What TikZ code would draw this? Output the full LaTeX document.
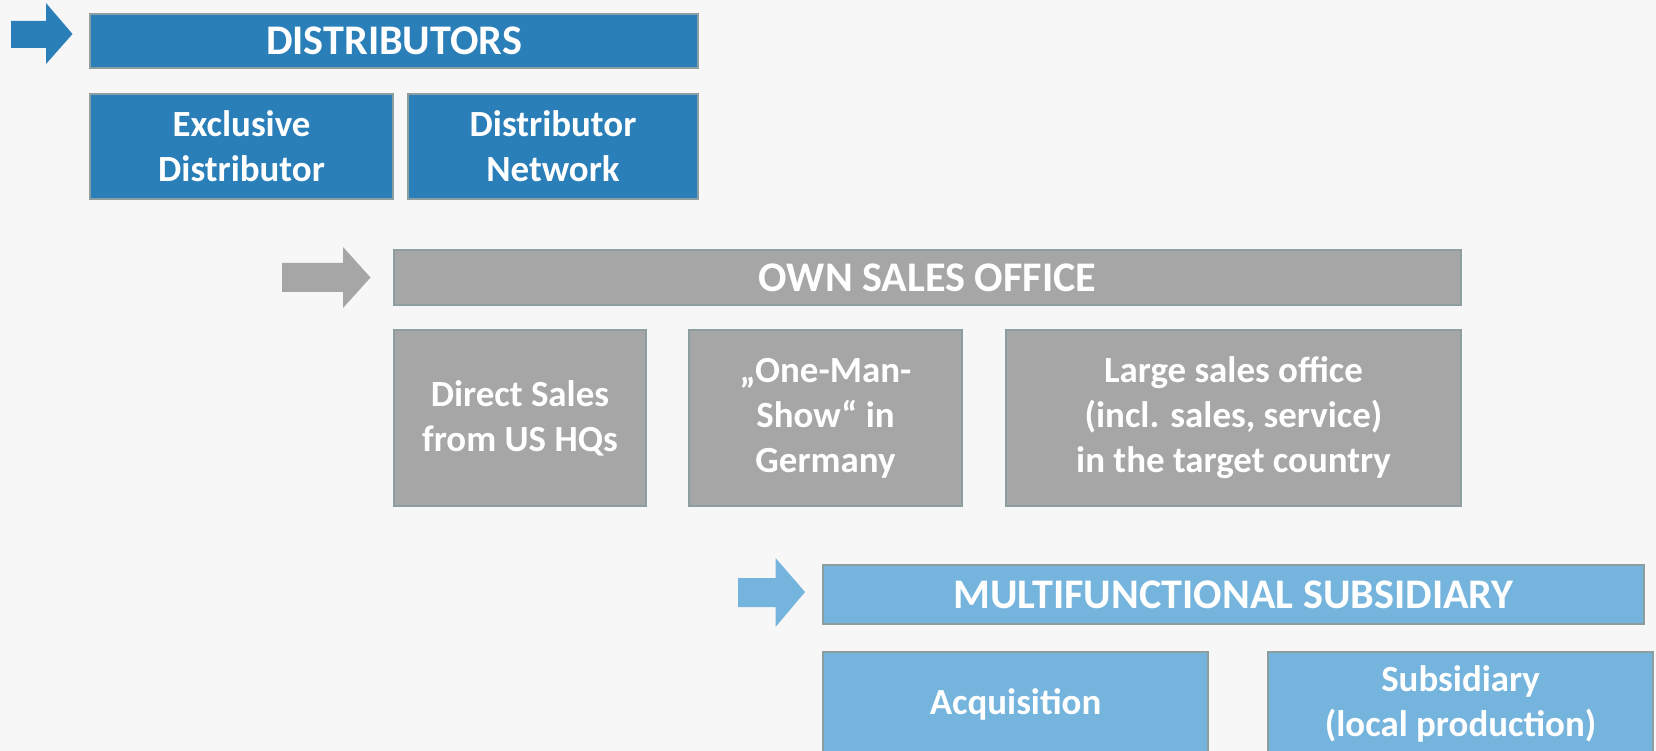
\documentclass[tikz,border=0pt]{standalone}
\usepackage{fontspec}
\setmainfont{Carlito}
\usepackage{tikz}

\definecolor{distblue}{RGB}{42,127,185}
\definecolor{officegray}{RGB}{166,166,166}
\definecolor{subsblue}{RGB}{117,180,221}
\definecolor{bggray}{RGB}{247,247,247}
\definecolor{boxline}{RGB}{140,158,160}

\tikzset{
  box/.style={draw=boxline, line width=0.9pt, text=white, align=center, inner sep=0pt,
    font=\bfseries\fontsize{21}{25.6}\selectfont},
  headbox/.style={box, font=\bfseries\fontsize{24}{29}\selectfont},
}

\begin{document}
\begin{tikzpicture}
% background
    \useasboundingbox (0,0) rectangle (33.12,-15.02);
    \fill[bggray] (0,0) rectangle (33.12,-15.02);
    % distributors
    \fill[distblue] (0.22,-0.42) -- (0.92,-0.42) -- (0.92,-0.06) -- (1.45,-0.68) -- (0.92,-1.28) -- (0.92,-0.96) -- (0.22,-0.96) -- cycle;
    \node[headbox, fill=distblue, minimum width=12.16cm, minimum height=1.08cm] (dist) at (7.88,-0.82) {DISTRIBUTORS};
    \node[box, fill=distblue, minimum width=6.06cm, minimum height=2.1cm] (excl) at (4.83,-2.93) {Exclusive\\Distributor};
    \node[box, fill=distblue, minimum width=5.8cm, minimum height=2.1cm] (dnet) at (11.06,-2.93) {Distributor\\Network};
    % own sales office
    \fill[officegray] (5.64,-5.26) -- (6.86,-5.26) -- (6.86,-4.94) -- (7.41,-5.55) -- (6.86,-6.16) -- (6.86,-5.84) -- (5.64,-5.84) -- cycle;
    \node[headbox, fill=officegray, minimum width=21.34cm, minimum height=1.1cm] (own) at (18.55,-5.55) {OWN SALES OFFICE};
    \node[box, fill=officegray, minimum width=5.04cm, minimum height=3.52cm] (direct) at (10.4,-8.36) {Direct Sales\\from US HQs};
    \node[box, fill=officegray, minimum width=5.46cm, minimum height=3.52cm] (oneman) at (16.51,-8.36) {„One-Man-\\Show“ in\\Germany};
    \node[box, fill=officegray, minimum width=9.1cm, minimum height=3.52cm] (large) at (24.67,-8.36) {Large sales office\\(incl. sales, service)\\in the target country};
    % multifunctional subsidiary
    \fill[subsblue] (14.76,-11.56) -- (15.51,-11.56) -- (15.51,-11.16) -- (16.1,-11.84) -- (15.51,-12.54) -- (15.51,-12.14) -- (14.76,-12.14) -- cycle;
    \node[headbox, fill=subsblue, minimum width=16.42cm, minimum height=1.18cm] (multi) at (24.67,-11.89) {MULTIFUNCTIONAL SUBSIDIARY};
    \node[box, fill=subsblue, minimum width=7.7cm, minimum height=2.08cm] (acq) at (20.31,-14.08) {Acquisition};
    \node[box, fill=subsblue, minimum width=7.7cm, minimum height=2.08cm] (subs) at (29.21,-14.08) {Subsidiary\\(local production)};
\end{tikzpicture}
\end{document}
